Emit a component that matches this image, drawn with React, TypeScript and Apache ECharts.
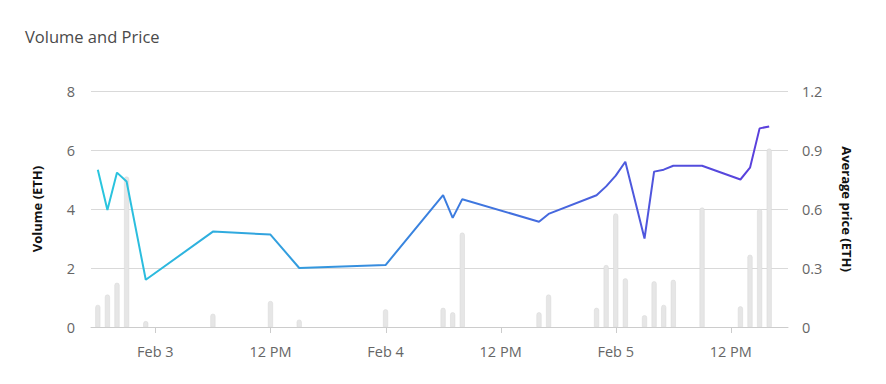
import React, { useEffect, useRef } from "react";
import * as echarts from "echarts";

const H = 3600 * 1000;
const BASE = new Date(2024, 1, 3, 0, 0, 0).getTime();

// hours relative to Feb 3 00:00
const hours = [
  -6, -5, -4, -3, -1, 6, 12, 15, 24, 30, 31, 32, 40, 41, 46, 47, 48, 49, 51, 52, 53, 54, 57, 61, 62, 63, 64,
];
const volumes = [
  0.75, 1.1, 1.5, 5.1, 0.2, 0.45, 0.88, 0.25, 0.6, 0.65, 0.5, 3.2, 0.5, 1.1, 0.65, 2.1, 3.85, 1.65, 0.4, 1.55,
  0.75, 1.6, 4.05, 0.7, 2.45, 4.0, 6.05,
];
const prices = [
  0.8, 0.595, 0.785, 0.74, 0.24, 0.485, 0.47, 0.3, 0.315, 0.67, 0.555, 0.65, 0.535, 0.575, 0.67, 0.715, 0.77,
  0.84, 0.45, 0.79, 0.8, 0.82, 0.82, 0.75, 0.81, 1.01, 1.02,
];
// tick positions, hours from Feb 3 00:00
const tickHours = [0, 12, 24, 36, 48, 60];
const axisMinHours = -6.45;
const axisMaxHours = 65.7;
const volumeTicks = { min: 0, max: 8, interval: 2 };
const priceTicks = { min: 0, max: 1.2, interval: 0.3 };

const MONTHS = ["Jan", "Feb", "Mar", "Apr", "May", "Jun", "Jul", "Aug", "Sep", "Oct", "Nov", "Dec"];

export default function App() {
  const ref = useRef<HTMLDivElement>(null);
  useEffect(() => {
    if (!ref.current) return;
    document.body.style.margin = "0";
    const chart = echarts.init(ref.current, undefined, { renderer: "svg" });
    const times = hours.map((h) => BASE + h * H);
    const tickTimes = tickHours.map((h) => BASE + h * H);
    const font = "'Open Sans', sans-serif";
    chart.setOption({
      animation: false,
      textStyle: { fontFamily: font },
      title: {
        text: "Volume and Price",
        left: 20,
        top: 23,
        textStyle: { fontSize: 16.5, fontWeight: "normal", color: "#4a4a4a", fontFamily: font },
      },
      grid: { left: 91, right: 98, top: 91, bottom: 57 },
      xAxis: {
        type: "time",
        min: BASE + axisMinHours * H,
        max: BASE + axisMaxHours * H,
        minInterval: 12 * H,
        maxInterval: 12 * H,
        axisLine: { lineStyle: { color: "#ccc" } },
        axisTick: { show: false },
        splitLine: { show: false },
        axisLabel: {
          color: "#666",
          fontSize: 14.5,
          margin: 17,
          formatter: (v: number) => {
            const d = new Date(v);
            const h = d.getHours();
            if (h === 0) return `${MONTHS[d.getMonth()]} ${d.getDate()}`;
            if (h === 12) return "12 PM";
            return "";
          },
        },
      },
      yAxis: [
        {
          type: "value",
          ...volumeTicks,
          name: "Volume (ETH)",
          nameLocation: "middle",
          nameGap: 48,
          nameRotate: 90,
          nameTextStyle: { fontWeight: "bold", fontSize: 13, color: "#111", fontFamily: font },
          axisLine: { show: false },
          axisTick: { show: false },
          axisLabel: { color: "#666", fontSize: 14.5, margin: 16 },
          splitLine: { lineStyle: { color: "#d9d9d9" } },
        },
        {
          type: "value",
          ...priceTicks,
          name: "Average price (ETH)",
          nameLocation: "middle",
          nameGap: 52,
          nameRotate: -90,
          nameTextStyle: { fontWeight: "bold", fontSize: 13, color: "#111", fontFamily: font },
          axisLine: { show: false },
          axisTick: { show: false },
          axisLabel: { color: "#666", fontSize: 14.5, margin: 14 },
          splitLine: { show: false },
        },
      ],
      series: [
        {
          type: "bar",
          yAxisIndex: 0,
          barWidth: 5,
          data: times.map((t, i) => [t, volumes[i]]),
          itemStyle: {
            color: "#e6e6e6",
            borderColor: "#d6d6d6",
            borderWidth: 0.5,
            borderRadius: [3, 3, 0, 0],
          },
        },
        {
          type: "line",
          yAxisIndex: 1,
          showSymbol: false,
          symbol: "none",
          data: times.map((t, i) => [t, prices[i]]),
          lineStyle: {
            width: 2,
            color: new echarts.graphic.LinearGradient(0, 0, 1, 0, [
              { offset: 0, color: "#29c6de" },
              { offset: 0.5, color: "#3a7fdf" },
              { offset: 1, color: "#5b3edc" },
            ]),
          },
        },
        {
          type: "custom",
          yAxisIndex: 0,
          silent: true,
          clip: false,
          data: tickTimes.map((t) => [t, 0]),
          renderItem: (params: any, api: any) => {
            const p = api.coord([api.value(0), 0]);
            const x = Math.round(p[0]) + 0.5;
            return {
              type: "line",
              shape: { x1: x, y1: p[1], x2: x, y2: p[1] + 6 },
              style: { stroke: "#ccc", lineWidth: 1 },
            };
          },
        },
      ],
    });
    return () => chart.dispose();
  }, []);
  return <div ref={ref} style={{ width: 886, height: 384 }} />;
}
